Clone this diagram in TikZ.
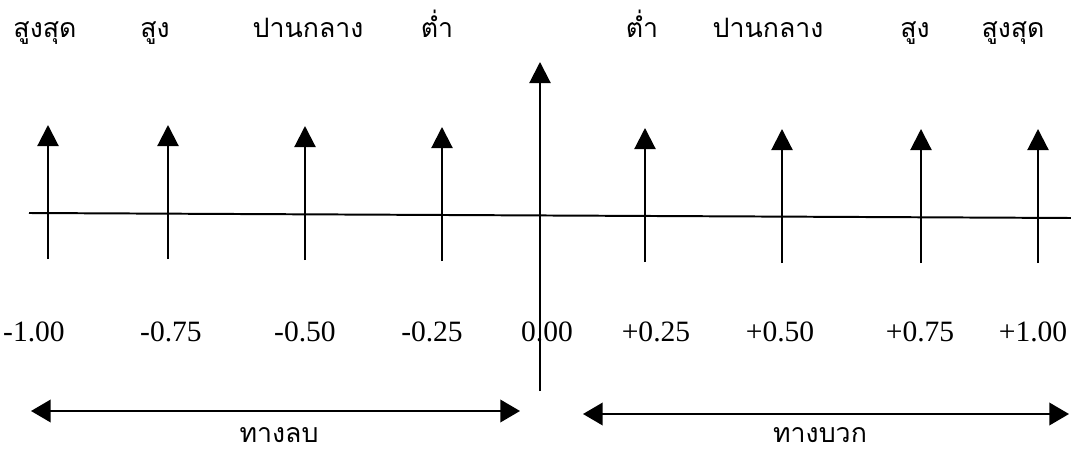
\documentclass[tikz,border=0pt]{standalone}
\usepackage{fontspec}
\setmainfont{Liberation Serif}
\newfontfamily\thaifont[Script=Thai]{Loma}
\usepackage{tikz}
\usetikzlibrary{arrows.meta,calc,positioning}

\tikzset{
  spike/.style={line width=1.5pt,-{Triangle[length=15pt,width=15pt]}},
  span/.style={line width=1.5pt,{Triangle[length=14pt,width=16pt]}-{Triangle[length=14pt,width=16pt]}},
  level/.style={anchor=base,inner sep=0pt,font=\thaifont\fontsize{19}{22}\selectfont},
  value/.style={anchor=base,inner sep=0pt,font=\fontsize{21}{25}\selectfont},
}

\begin{document}
\begin{tikzpicture}[x=0.025cm,y=-0.025cm]
\useasboundingbox (0,0) rectangle (1071,453);
% level names on top
\node[level] (nl4) at (45,38) {สูงสุด};
\node[level] (nl3) at (155,38) {สูง};
\node[level] (nl2) at (308,38) {ปานกลาง};
\node[level] (nl1) at (437,38) {ต่ำ};
\node[level] (pl1) at (642,38) {ต่ำ};
\node[level] (pl2) at (768,38) {ปานกลาง};
\node[level] (pl3) at (915,38) {สูง};
\node[level] (pl4) at (1013,38) {สูงสุด};
% values under the axis
\node[value] (vm4) at (34,341) {-1.00};
\node[value] (vm3) at (171,341) {-0.75};
\node[value] (vm2) at (305,341) {-0.50};
\node[value] (vm1) at (432,341) {-0.25};
\node[value] (v0) at (547,341) {0.00};
\node[value] (vp1) at (656,341) {+0.25};
\node[value] (vp2) at (780,341) {+0.50};
\node[value] (vp3) at (920,341) {+0.75};
\node[value] (vp4) at (1033,341) {+1.00};
% axes
\coordinate (xl) at (29,213);
\coordinate (xr) at (1071,218);
\coordinate (yb) at (540,391);
\coordinate (yt) at (540,62);
\draw[line width=1.4pt] (xl) -- (xr);
\draw[spike] (yb) -- (yt);
% arrows on the axis
\foreach \x/\yt/\n in {48/125/m4,168/125/m3,305/126/m2,442/127/m1,645/128/p1,782/129/p2,921/129/p3,1038/129/p4}{
  \coordinate (lo\n) at (\x,\yt+134);
  \coordinate (hi\n) at (\x,\yt);
  \draw[spike] (lo\n) -- (hi\n);
}
% negative and positive sides
\coordinate (nl) at (31,411);
\coordinate (nr) at (520,411);
\coordinate (pl) at (583,414);
\coordinate (pr) at (1069,414);
\draw[span] (nl) -- (nr);
\draw[span] (pl) -- (pr);
\node[level] (neg) at (279,442) {ทางลบ};
\node[level] (pos) at (820,442) {ทางบวก};
\end{tikzpicture}
\end{document}
